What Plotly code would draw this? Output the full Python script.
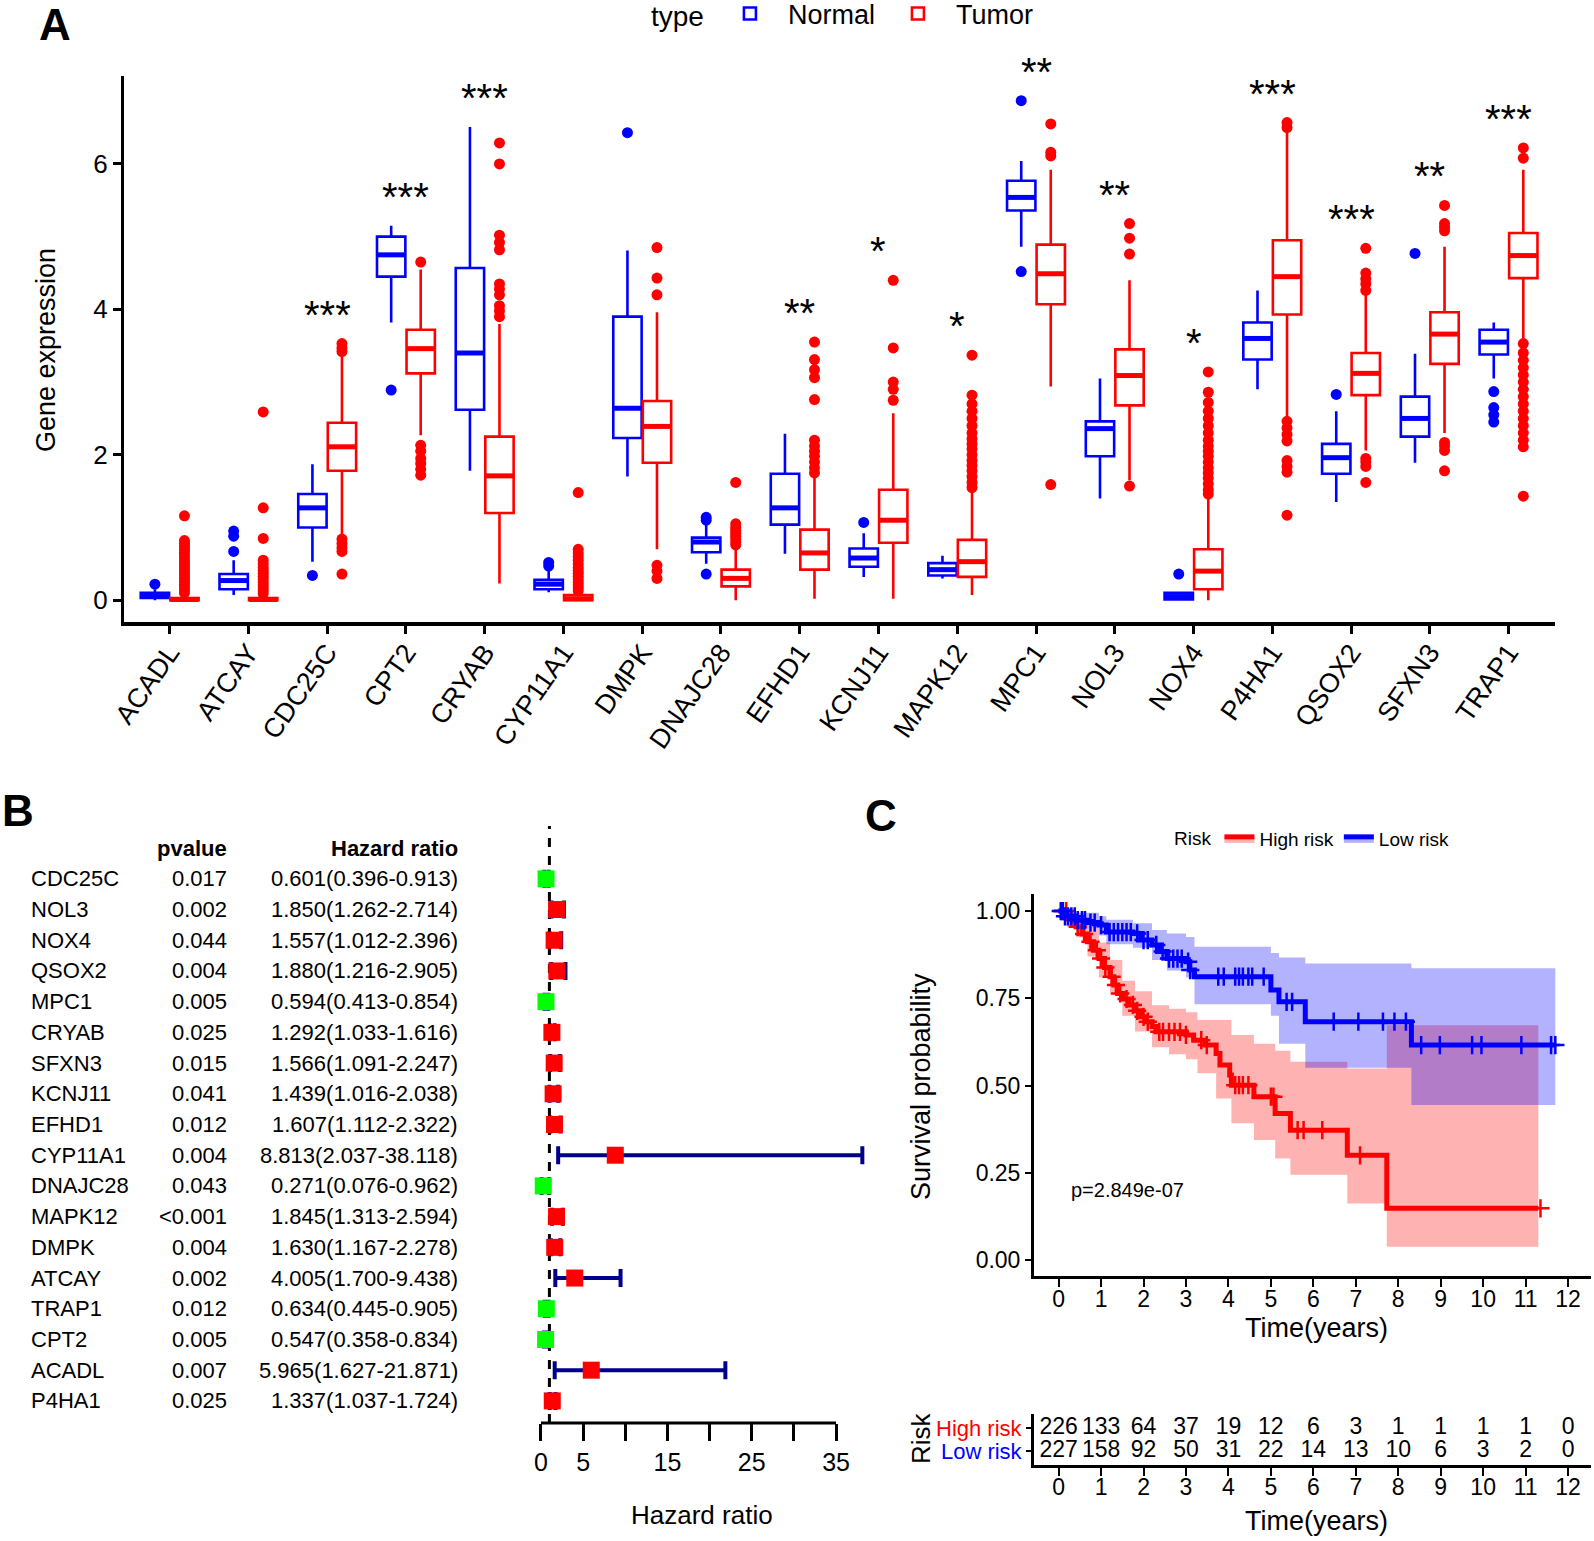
import numpy as np
import plotly.graph_objects as go

W, H = 1594, 1541
def px(x): return x / W
def py(y): return 1 - y / H

FONT = "Liberation Sans, Arial, Helvetica, sans-serif"
BLUE = "#0000FF"
RED = "#FF0000"

# ---------------- Panel A data ----------------
genes = ["ACADL", "ATCAY", "CDC25C", "CPT2", "CRYAB", "CYP11A1", "DMPK", "DNAJC28", "EFHD1",
         "KCNJ11", "MAPK12", "MPC1", "NOL3", "NOX4", "P4HA1", "QSOX2", "SFXN3", "TRAP1"]

normal_lf  = [0.00, 0.07, 0.53, 3.82, 1.78, 0.11, 1.70, 0.50, 0.64, 0.32, 0.30, 4.86, 1.40, 0.00, 2.90, 1.35, 1.89, 3.05]
normal_q1  = [0.03, 0.15, 1.00, 4.45, 2.62, 0.15, 2.23, 0.66, 1.04, 0.46, 0.34, 5.36, 1.98, 0.01, 3.31, 1.74, 2.25, 3.38]
normal_med = [0.06, 0.27, 1.27, 4.75, 3.40, 0.22, 2.64, 0.80, 1.27, 0.58, 0.42, 5.54, 2.36, 0.05, 3.60, 1.96, 2.50, 3.55]
normal_q3  = [0.10, 0.36, 1.46, 5.00, 4.57, 0.28, 3.90, 0.86, 1.74, 0.71, 0.51, 5.77, 2.46, 0.10, 3.82, 2.15, 2.80, 3.72]
normal_uf  = [0.15, 0.55, 1.87, 5.15, 6.51, 0.42, 4.81, 1.05, 2.29, 0.92, 0.61, 6.04, 3.05, 0.12, 4.26, 2.60, 3.39, 3.82]
normal_out = [[0.22], [0.67, 0.88, 0.95], [0.34], [2.89], [], [0.47, 0.52], [6.43], [0.36, 1.10, 1.14],
              [], [1.07], [], [4.52, 6.87], [], [0.36], [], [2.83], [4.77], [2.45, 2.55, 2.65, 2.87]]

tumor_lf  = [0.00, 0.00, 0.90, 2.27, 0.23, 0.00, 0.70, 0.00, 0.02, 0.02, 0.07, 2.94, 1.65, 0.00, 2.49, 2.06, 2.30, 3.58]
tumor_q1  = [0.00, 0.00, 1.78, 3.12, 1.20, 0.00, 1.89, 0.19, 0.42, 0.79, 0.32, 4.07, 2.68, 0.15, 3.93, 2.82, 3.25, 4.43]
tumor_med = [0.01, 0.01, 2.11, 3.46, 1.71, 0.02, 2.39, 0.30, 0.65, 1.10, 0.53, 4.49, 3.09, 0.40, 4.45, 3.12, 3.66, 4.74]
tumor_q3  = [0.03, 0.03, 2.44, 3.72, 2.25, 0.07, 2.74, 0.42, 0.97, 1.52, 0.83, 4.89, 3.45, 0.70, 4.95, 3.40, 3.96, 5.05]
tumor_uf  = [0.06, 0.06, 3.35, 4.55, 3.80, 0.10, 3.96, 0.72, 1.68, 2.57, 1.51, 5.92, 4.40, 1.40, 6.46, 4.23, 4.86, 5.92]
tumor_out = [
    [0.10, 0.14, 0.18, 0.22, 0.26, 0.30, 0.34, 0.38, 0.42, 0.46, 0.50, 0.54, 0.58, 0.62, 0.66, 0.70, 0.74, 0.78, 0.82, 1.16],
    [0.09, 0.13, 0.17, 0.21, 0.25, 0.29, 0.33, 0.37, 0.41, 0.45, 0.50, 0.55, 0.85, 1.27, 2.59],
    [0.36, 0.67, 0.72, 0.78, 0.84, 3.42, 3.47, 3.53],
    [1.72, 1.80, 1.88, 1.95, 2.05, 2.13, 4.65],
    [3.90, 3.98, 4.05, 4.20, 4.28, 4.35, 4.82, 4.92, 5.02, 6.00, 6.29],
    [0.13, 0.17, 0.21, 0.25, 0.29, 0.33, 0.37, 0.41, 0.45, 0.50, 0.55, 0.60, 0.65, 0.70, 1.48],
    [0.30, 0.40, 0.48, 4.20, 4.43, 4.85],
    [0.76, 0.80, 0.84, 0.88, 0.92, 0.96, 1.00, 1.05, 1.62],
    [1.75, 1.82, 1.90, 1.98, 2.05, 2.12, 2.20, 2.76, 3.06, 3.17, 3.31, 3.55],
    [2.75, 2.90, 3.00, 3.47, 4.40],
    [1.55, 1.62, 1.70, 1.78, 1.85, 1.92, 2.00, 2.08, 2.15, 2.22, 2.30, 2.40, 2.50, 2.60, 2.70, 2.82, 3.37],
    [1.59, 6.11, 6.16, 6.55],
    [1.57, 4.76, 4.98, 5.18],
    [1.46, 1.52, 1.60, 1.68, 1.75, 1.82, 1.90, 1.98, 2.05, 2.12, 2.20, 2.30, 2.40, 2.50, 2.60, 2.72, 2.86, 3.14],
    [1.17, 1.76, 1.84, 1.92, 2.19, 2.28, 2.37, 2.46, 6.50, 6.57],
    [1.62, 1.84, 1.90, 1.95, 4.26, 4.35, 4.42, 4.50, 4.84],
    [1.78, 2.06, 2.12, 2.17, 5.08, 5.13, 5.18, 5.43],
    [1.43, 2.11, 2.20, 2.30, 2.40, 2.50, 2.60, 2.70, 2.80, 2.90, 3.00, 3.10, 3.20, 3.30, 3.40, 3.53, 6.08, 6.22],
]
sig_labels = ["", "", "***", "***", "***", "", "", "", "**", "*", "*", "**", "**", "*", "***", "***", "**", "***"]
expr_ticks = [0, 2, 4, 6]

# ---------------- Panel B data ----------------
f_genes = ["CDC25C", "NOL3", "NOX4", "QSOX2", "MPC1", "CRYAB", "SFXN3", "KCNJ11", "EFHD1",
           "CYP11A1", "DNAJC28", "MAPK12", "DMPK", "ATCAY", "TRAP1", "CPT2", "ACADL", "P4HA1"]
f_pvalue = ["0.017", "0.002", "0.044", "0.004", "0.005", "0.025", "0.015", "0.041", "0.012",
            "0.004", "0.043", "<0.001", "0.004", "0.002", "0.012", "0.005", "0.007", "0.025"]
f_hr   = [0.601, 1.850, 1.557, 1.880, 0.594, 1.292, 1.566, 1.439, 1.607, 8.813, 0.271, 1.845, 1.630, 4.005, 0.634, 0.547, 5.965, 1.337]
f_low  = [0.396, 1.262, 1.012, 1.216, 0.413, 1.033, 1.091, 1.016, 1.112, 2.037, 0.076, 1.313, 1.167, 1.700, 0.445, 0.358, 1.627, 1.037]
f_high = [0.913, 2.714, 2.396, 2.905, 0.854, 1.616, 2.247, 2.038, 2.322, 38.118, 0.962, 2.594, 2.278, 9.438, 0.905, 0.834, 21.871, 1.724]
hr_ticks = [0, 5, 10, 15, 20, 25, 30, 35]
hr_ticktext = ["0", "5", "", "15", "", "25", "", "35"]

# ---------------- Panel C data ----------------
high_t = [0, 0.2, 0.41, 0.55, 0.68, 0.82, 0.95, 1.08, 1.21, 1.3, 1.39, 1.52, 1.66, 1.8, 1.93, 2.06, 2.2, 2.29,
          3.0, 3.18, 3.45, 3.71, 3.8, 4.03, 4.07, 4.6, 5.1, 5.46, 6.8, 7.73, 11.3]
high_s = [1.0, 0.978, 0.955, 0.934, 0.912, 0.888, 0.864, 0.838, 0.812, 0.788, 0.764, 0.748, 0.731, 0.714, 0.697,
          0.683, 0.669, 0.654, 0.645, 0.63, 0.616, 0.592, 0.559, 0.53, 0.501, 0.468, 0.42, 0.372, 0.30, 0.148, 0.148]
low_t = [0, 0.15, 0.41, 0.7, 0.95, 1.125, 1.75, 1.93, 2.2, 2.38, 2.55, 3.0, 3.09, 3.2, 5.0, 5.19, 5.81, 8.31, 11.7]
low_s = [1.0, 0.985, 0.974, 0.967, 0.96, 0.94, 0.936, 0.917, 0.903, 0.884, 0.864, 0.855, 0.831, 0.812, 0.774,
         0.74, 0.683, 0.616, 0.616]

high_band_t = [0, 0.2, 0.41, 0.68, 0.95, 1.21, 1.5, 1.8, 2.2, 2.6, 3.0, 3.27, 3.71, 4.07, 4.6, 5.1, 5.46, 6.8, 7.73, 11.3]
high_upper = [1.0, 0.995, 0.98, 0.95, 0.91, 0.86, 0.80, 0.77, 0.73, 0.72, 0.71, 0.688, 0.688, 0.645, 0.62, 0.60,
              0.568, 0.549, 0.673, 0.673]
high_lower = [1.0, 0.955, 0.925, 0.87, 0.81, 0.76, 0.70, 0.655, 0.61, 0.59, 0.575, 0.535, 0.463, 0.392, 0.344,
              0.291, 0.244, 0.162, 0.038, 0.038]
low_band_t = [0, 0.41, 0.95, 1.125, 1.75, 2.2, 2.55, 3.0, 3.2, 5.0, 5.19, 5.81, 8.31, 11.7]
low_upper = [1.0, 0.995, 0.985, 0.975, 0.965, 0.946, 0.936, 0.926, 0.898, 0.88, 0.867, 0.85, 0.836, 0.836]
low_lower = [1.0, 0.95, 0.93, 0.905, 0.895, 0.86, 0.83, 0.81, 0.733, 0.70, 0.62, 0.551, 0.444, 0.444]

high_censor = [0.1, 0.18, 0.3, 0.45, 0.6, 0.75, 0.9, 1.0, 1.1, 1.25, 1.35, 1.45, 1.6, 1.75, 1.85, 2.0, 2.1, 2.37,
               2.46, 2.6, 2.73, 2.86, 3.0, 3.36, 3.49, 4.16, 4.25, 4.34, 4.47, 5.0, 5.06, 5.63, 5.77, 6.21, 7.1, 11.35]
low_censor = [0.05, 0.1, 0.15, 0.22, 0.3, 0.38, 0.45, 0.55, 0.62, 0.75, 0.85, 1.0, 1.2, 1.3, 1.4, 1.5, 1.6, 1.7,
              1.85, 2.0, 2.1, 2.3, 2.45, 2.6, 2.7, 2.8, 2.9, 3.05, 3.1, 3.76, 3.89, 4.16, 4.25, 4.34, 4.47, 4.56,
              4.83, 5.37, 5.5, 6.48, 7.06, 7.64, 7.91, 8.18, 8.54, 8.98, 9.74, 9.96, 10.9, 11.6, 11.7]
p_text = "p=2.849e-07"
years = list(range(13))
high_n = [226, 133, 64, 37, 19, 12, 6, 3, 1, 1, 1, 1, 0]
low_n = [227, 158, 92, 50, 31, 22, 14, 13, 10, 6, 3, 2, 0]
surv_ticks = [0, 0.25, 0.5, 0.75, 1.0]

fig = go.Figure()

# ================= Panel A =================
pos = np.arange(len(genes))
off, bw = 0.1875, 0.36
for name, col, sgn, lf, q1, med, q3, uf, outs in [
        ("Normal", BLUE, -1, normal_lf, normal_q1, normal_med, normal_q3, normal_uf, normal_out),
        ("Tumor", RED, 1, tumor_lf, tumor_q1, tumor_med, tumor_q3, tumor_uf, tumor_out)]:
    xs = pos + sgn * off
    fig.add_trace(go.Box(x=xs, q1=q1, median=med, q3=q3, lowerfence=lf, upperfence=uf,
                         width=bw, whiskerwidth=0, boxpoints=False, name=name,
                         line=dict(color=col, width=2.6), fillcolor="white",
                         xaxis="x", yaxis="y", legend="legend"))
    mx, my = [], []
    for x0, m in zip(xs, med):
        mx += [x0 - bw / 2, x0 + bw / 2, None]
        my += [m, m, None]
    fig.add_trace(go.Scatter(x=mx, y=my, mode="lines", line=dict(color=col, width=5),
                             showlegend=False, hoverinfo="skip", xaxis="x", yaxis="y"))
    ox, oy = [], []
    for x0, o in zip(xs, outs):
        ox += [x0] * len(o)
        oy += o
    fig.add_trace(go.Scatter(x=ox, y=oy, mode="markers", marker=dict(color=col, size=11),
                             showlegend=False, xaxis="x", yaxis="y"))

annotations = []
# significance labels: anchored at the highest point of each gene, lifted a fixed pixel gap
for i, lab in enumerate(sig_labels):
    if not lab:
        continue
    top = max([normal_uf[i], tumor_uf[i]] + normal_out[i] + tumor_out[i])
    annotations.append(dict(x=pos[i], y=top, xref="x", yref="y", text=lab, showarrow=False,
                            xanchor="center", yanchor="middle", yshift=29,
                            font=dict(family=FONT, size=40, color="black")))


def label(x, y, text, size, angle=0, xanchor="center"):
    annotations.append(dict(x=px(x), y=py(y), xref="paper", yref="paper", text=text, textangle=angle,
                            xanchor=xanchor, yanchor="middle", showarrow=False,
                            font=dict(family=FONT, size=size, color="black")))


label(46, 350, "Gene expression", 27, -90)

# ================= Panel B =================
n = len(f_genes)
rows = [n - i for i in range(n)]
fig.add_trace(go.Scatter(x=[1, 1], y=[0.28, n + 1.72], mode="lines",
                         line=dict(color="black", width=3, dash="dash"),
                         showlegend=False, xaxis="x2", yaxis="y2"))
box_cols = ["#FF0000" if h > 1 else "#00FF00" for h in f_hr]
fig.add_trace(go.Scatter(
    x=f_hr, y=rows, mode="markers",
    marker=dict(symbol="square", size=17, color=box_cols),
    error_x=dict(type="data", symmetric=False,
                 array=[h - r for h, r in zip(f_high, f_hr)],
                 arrayminus=[r - l for r, l in zip(f_hr, f_low)],
                 color="#00008B", thickness=4, width=9),
    showlegend=False, xaxis="x2", yaxis="y2"))

BF = 22
def row_text(x, y, text, anchor):
    annotations.append(dict(x=px(x), y=y, xref="paper", yref="y2", text=text,
                            xanchor=anchor, yanchor="middle", showarrow=False,
                            font=dict(family=FONT, size=BF, color="black")))

for i in range(n):
    row_text(29, rows[i], f_genes[i], "left")
    row_text(229, rows[i], f_pvalue[i], "right")
    row_text(460, rows[i], f"{f_hr[i]:.3f}({f_low[i]:.3f}-{f_high[i]:.3f})", "right")
row_text(229, n + 1, "<b>pvalue</b>", "right")
row_text(460, n + 1, "<b>Hazard ratio</b>", "right")
label(702, 1515, "Hazard ratio", 26)

# ================= Panel C =================
def step_lookup(ts, ss, t):
    idx = np.searchsorted(ts, t, side="right") - 1
    return [ss[k] for k in idx]

for bt, lo, up, fcol in [(high_band_t, high_lower, high_upper, "rgba(255,0,0,0.3)"),
                         (low_band_t, low_lower, low_upper, "rgba(0,0,255,0.3)")]:
    fig.add_trace(go.Scatter(x=bt, y=lo, mode="lines", line=dict(width=0, shape="hv"),
                             showlegend=False, hoverinfo="skip", xaxis="x3", yaxis="y3"))
    fig.add_trace(go.Scatter(x=bt, y=up, mode="lines", line=dict(width=0, shape="hv"),
                             fill="tonexty", fillcolor=fcol,
                             showlegend=False, hoverinfo="skip", xaxis="x3", yaxis="y3"))

for ts, ss, cens, col in [(high_t, high_s, high_censor, RED), (low_t, low_s, low_censor, BLUE)]:
    fig.add_trace(go.Scatter(x=ts, y=ss, mode="lines", line=dict(color=col, width=5, shape="hv"),
                             showlegend=False, xaxis="x3", yaxis="y3"))
    fig.add_trace(go.Scatter(x=cens, y=step_lookup(ts, ss, cens), mode="markers",
                             marker=dict(symbol="cross-thin", size=13, line=dict(color=col, width=2.5)),
                             showlegend=False, xaxis="x3", yaxis="y3"))

for name, col, fcol in [("High risk", RED, "rgba(255,0,0,0.3)"), ("Low risk", BLUE, "rgba(0,0,255,0.3)")]:
    fig.add_trace(go.Scatter(x=[None], y=[None], mode="lines", name=name,
                             line=dict(color=col, width=5), fill="toself", fillcolor=fcol,
                             xaxis="x3", yaxis="y3", legend="legend2"))

annotations.append(dict(x=0.25, y=0.2, xref="x3", yref="y3", text=p_text, xanchor="left", yanchor="middle",
                        showarrow=False, font=dict(family=FONT, size=20, color="black")))
label(921, 1086, "Survival probability", 27, -90)
label(1316, 1328, "Time(years)", 27)

# risk table
fig.add_trace(go.Scatter(x=years, y=[2] * len(years), mode="text", text=[str(v) for v in high_n],
                         textfont=dict(family=FONT, size=23, color="black"), cliponaxis=False,
                         showlegend=False, xaxis="x4", yaxis="y4"))
fig.add_trace(go.Scatter(x=years, y=[1] * len(years), mode="text", text=[str(v) for v in low_n],
                         textfont=dict(family=FONT, size=23, color="black"), cliponaxis=False,
                         showlegend=False, xaxis="x4", yaxis="y4"))
label(921, 1438, "Risk", 26, -90)
label(1316, 1521, "Time(years)", 27)

# panel letters
for lab, x, y in [("A", 37, 24), ("B", 0, 810), ("C", 863, 815)]:
    label(x, y, f"<b>{lab}</b>", 44, 0, "left")

axis_common = dict(showgrid=False, zeroline=False, ticks="outside", tickcolor="black",
                   linecolor="black", color="black", automargin=False)

fig.update_layout(
    width=W, height=H, margin=dict(l=0, r=0, t=0, b=0, autoexpand=False),
    paper_bgcolor="white", plot_bgcolor="white",
    font=dict(family=FONT, color="black"),
    annotations=annotations,
    xaxis=dict(domain=[px(124), px(1555)], range=[-0.58, 17.59], anchor="y",
               tickvals=list(pos), ticktext=genes, tickangle=-55, ticklen=8, tickwidth=2.5,
               ticklabelstandoff=-8,
               showline=True, linewidth=3.5, tickfont=dict(family=FONT, size=27), **axis_common),
    yaxis=dict(domain=[py(622), py(76)], range=[-0.30, 7.21], anchor="x",
               tickvals=expr_ticks, ticklen=8, tickwidth=2.5, showline=True, linewidth=3,
               tickfont=dict(family=FONT, size=26), **axis_common),
    xaxis2=dict(domain=[px(528), px(875)], range=[-1.54, 39.62], anchor="y2",
                tickvals=hr_ticks, ticktext=hr_ticktext, ticklen=17, tickwidth=3, showline=False,
                tickfont=dict(family=FONT, size=25), **axis_common),
    yaxis2=dict(domain=[py(1423), py(826)], range=[0.28, n + 1.72], anchor="x2", visible=False),
    xaxis3=dict(domain=[px(1034), px(1591)], range=[-0.58, 12.54], anchor="y3",
                tickvals=years, ticklen=8, tickwidth=2, showline=True, linewidth=3,
                ticklabelstandoff=-8,
                tickfont=dict(family=FONT, size=23), **axis_common),
    yaxis3=dict(domain=[py(1276), py(894)], range=[-0.046, 1.049], anchor="x3",
                tickvals=surv_ticks, ticktext=[f"{v:.2f}" for v in surv_ticks],
                ticklen=6, tickwidth=2, showline=True, linewidth=3,
                tickfont=dict(family=FONT, size=23), **axis_common),
    xaxis4=dict(domain=[px(1034), px(1591)], range=[-0.58, 12.54], anchor="y4",
                tickvals=years, ticklen=8, tickwidth=2, showline=True, linewidth=3,
                ticklabelstandoff=-8,
                tickfont=dict(family=FONT, size=23), **axis_common),
    yaxis4=dict(domain=[py(1464.5), py(1413.5)], range=[0.41, 2.63], anchor="x4",
                tickvals=[1, 2],
                ticktext=['<span style="color:blue">Low risk</span>', '<span style="color:red">High risk</span>'],
                ticklen=5, tickwidth=2, showline=True, linewidth=3,
                tickfont=dict(family=FONT, size=22), **axis_common),
    legend=dict(orientation="h", x=px(649), xanchor="left", y=py(14), yanchor="middle",
                traceorder="normal", itemwidth=66,
                title=dict(text="type", font=dict(family=FONT, size=28)),
                font=dict(family=FONT, size=27), bgcolor="rgba(0,0,0,0)"),
    legend2=dict(orientation="h", x=px(1172), xanchor="left", y=py(839), yanchor="middle",
                 traceorder="normal",
                 title=dict(text="Risk", font=dict(family=FONT, size=19)),
                 font=dict(family=FONT, size=19), bgcolor="rgba(0,0,0,0)"),
)

fig.add_shape(type="line", xref="x2", yref="y2 domain", x0=hr_ticks[0], x1=hr_ticks[-1], y0=0, y1=0,
              line=dict(color="black", width=3))

fig.write_html("out.html", config={"displayModeBar": False},
               post_script="document.body.style.margin='0px';")
